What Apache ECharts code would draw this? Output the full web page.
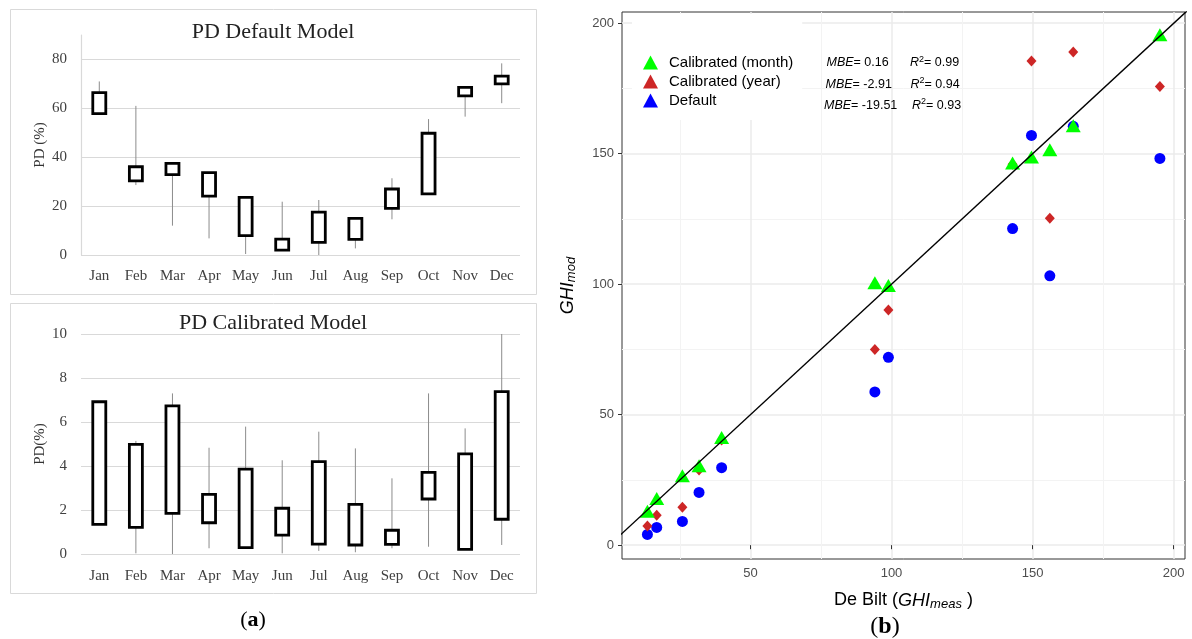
<!DOCTYPE html>
<html>
<head>
<meta charset="utf-8">
<script src="https://cdn.jsdelivr.net/npm/echarts@6/dist/echarts.min.js"></script>
<style>
  html, body { margin: 0; padding: 0; background: #ffffff; }
  #chart { width: 1192px; height: 639px; }
</style>
</head>
<body>
<div id="chart"></div>
<script>
// Month categories shared by both PD panels
const months = ['Jan', 'Feb', 'Mar', 'Apr', 'May', 'Jun', 'Jul', 'Aug', 'Sep', 'Oct', 'Nov', 'Dec'];

// PD of the default model (%): box edges and whisker ends per month
const defaultBoxLow    = [57.8, 30.3, 32.9, 24.1, 7.9, 2.0, 5.2, 6.4, 19.1, 25.0, 65.1, 70.0];
const defaultBoxHigh   = [66.4, 36.1, 37.5, 33.7, 23.6, 6.5, 17.5, 15.0, 27.0, 49.8, 68.6, 73.2];
const defaultWhiskLow  = [57.8, 28.6, 12.0, 6.8, 0.4, 2.0, 0.0, 2.7, 14.6, 25.0, 56.6, 62.1];
const defaultWhiskHigh = [71.0, 61.0, 37.5, 33.7, 23.6, 21.8, 22.5, 15.0, 31.4, 55.6, 68.6, 78.4];

// PD of the calibrated model (%)
const calibBoxLow    = [1.35, 1.21, 1.85, 1.42, 0.29, 0.86, 0.45, 0.41, 0.44, 2.50, 0.21, 1.58];
const calibBoxHigh   = [6.92, 4.98, 6.73, 2.71, 3.86, 2.08, 4.20, 2.26, 1.08, 3.71, 4.55, 7.38];
const calibWhiskLow  = [1.35, 0.03, 0.00, 0.26, 0.29, 0.03, 0.14, 0.08, 0.26, 0.33, 0.21, 0.41];
const calibWhiskHigh = [6.92, 5.14, 7.30, 4.83, 5.79, 4.26, 5.56, 4.80, 3.44, 7.30, 5.71, 10.0];

// Monthly GHI at De Bilt: measured vs. modelled
const ghiMeas       = [13.5, 16.8, 25.9, 31.8, 39.8, 94.1, 98.9, 142.9, 149.6, 156.1, 164.4, 195.1];
const ghiCalibMonth = [13.0, 17.9, 26.6, 30.4, 41.3, 100.6, 99.5, 146.4, 148.7, 151.5, 160.7, 195.6];
const ghiCalibYear  = [7.3, 11.5, 14.5, 28.8, 40.3, 75.0, 90.1, 146.0, 185.5, 125.3, 189.0, 175.8];
const ghiDefault    = [4.1, 6.8, 9.1, 20.2, 29.7, 58.7, 72.0, 121.3, 157.0, 103.2, 160.5, 148.2];

// Goodness-of-fit statistics, one row per model
const mbeValues = ['0.16', '-2.91', '-19.51'];
const r2Values  = ['0.99', '0.94', '0.93'];

// 1:1 reference line
const identityLine = [[0, 0], [210, 210]];

const SERIF = '"Liberation Serif", "DejaVu Serif", serif';
const SANS = '"Liberation Sans", Arial, sans-serif';

const chart = echarts.init(document.getElementById('chart'), null, { renderer: 'canvas' });

// Box (thick black outline) with a thin grey whisker behind it
function pdBoxSeries(idx, boxLow, boxHigh, whiskLow, whiskHigh) {
  return {
    type: 'custom',
    xAxisIndex: idx,
    yAxisIndex: idx,
    encode: { x: 0, y: [1, 2, 3, 4] },
    data: months.map((m, i) => [i, boxLow[i], boxHigh[i], whiskLow[i], whiskHigh[i]]),
    renderItem(params, api) {
      const i = api.value(0);
      const lo = api.coord([i, api.value(1)]);
      const hi = api.coord([i, api.value(2)]);
      const wLo = api.coord([i, api.value(3)]);
      const wHi = api.coord([i, api.value(4)]);
      const w = 13;
      return {
        type: 'group',
        children: [
          { type: 'line', shape: { x1: wLo[0], y1: wLo[1], x2: wHi[0], y2: wHi[1] },
            style: { stroke: '#8C8C8C', lineWidth: 1 } },
          { type: 'rect', shape: { x: hi[0] - w / 2, y: hi[1], width: w, height: lo[1] - hi[1] },
            style: { fill: '#ffffff', stroke: '#000000', lineWidth: 2.8 } }
        ]
      };
    }
  };
}

function pdXAxis(idx, margin) {
  return {
    type: 'category', gridIndex: idx, data: months,
    axisTick: { show: false }, axisLine: { show: false },
    axisLabel: { fontFamily: SERIF, fontSize: 15, color: '#404040', margin: margin }
  };
}

const pdSplit = { lineStyle: { color: '#D9D9D9', width: 1.2 } };

const option = {
  animation: false,
  backgroundColor: '#ffffff',
  grid: [
    { left: 81, right: 672, top: 35, height: 220 },
    { left: 81, right: 672, top: 334, height: 220 },
    { left: 622, right: 7, top: 12, bottom: 80, show: true, borderColor: '#333333', borderWidth: 1, backgroundColor: 'transparent' }
  ],
  xAxis: [
    pdXAxis(0, 14),
    pdXAxis(1, 15),
    {
      type: 'value', gridIndex: 2, min: 4.5, max: 204, splitNumber: 4, minInterval: 50, maxInterval: 50,
      axisLine: { show: false },
      axisTick: { show: true, length: 4, lineStyle: { color: '#333333' } },
      axisLabel: { color: '#4D4D4D', fontFamily: SANS, fontSize: 13, margin: 8, showMinLabel: false, showMaxLabel: false },
      splitLine: { show: true, showMinLine: false, showMaxLine: false, lineStyle: { color: '#EBEBEB', width: 1.5 } },
      minorTick: { show: false, splitNumber: 2 },
      minorSplitLine: { show: true, lineStyle: { color: '#F3F3F3', width: 1 } },
      name: 'De Bilt ({i|GHI}{s|meas} )',
      nameLocation: 'middle', nameGap: 31,
      nameTextStyle: {
        fontFamily: SANS, fontSize: 18, color: '#000000',
        rich: {
          i: { fontFamily: SANS, fontSize: 18, fontStyle: 'italic', color: '#000000' },
          s: { fontFamily: SANS, fontSize: 13, fontStyle: 'italic', color: '#000000', padding: [8, 0, 0, 0] }
        }
      }
    }
  ],
  yAxis: [
    {
      type: 'value', gridIndex: 0, min: 0, max: 90, interval: 20,
      axisLine: { show: true, lineStyle: { color: '#D9D9D9', width: 1.2 } },
      axisTick: { show: false },
      axisLabel: { fontFamily: SERIF, fontSize: 15, color: '#404040', margin: 14, showMaxLabel: false },
      splitLine: Object.assign({ showMaxLine: false }, pdSplit),
      name: 'PD (%)', nameLocation: 'middle', nameGap: 33,
      nameTextStyle: { fontFamily: SERIF, fontSize: 15, color: '#333333' }
    },
    {
      type: 'value', gridIndex: 1, min: 0, max: 10, interval: 2,
      axisLine: { show: false },
      axisTick: { show: false },
      axisLabel: { fontFamily: SERIF, fontSize: 15, color: '#404040', margin: 14 },
      splitLine: pdSplit,
      name: 'PD(%)', nameLocation: 'middle', nameGap: 33,
      nameTextStyle: { fontFamily: SERIF, fontSize: 15, color: '#333333' }
    },
    {
      type: 'value', gridIndex: 2, min: -5.3, max: 204.3, splitNumber: 4, minInterval: 50, maxInterval: 50,
      axisLine: { show: false },
      axisTick: { show: true, length: 4, lineStyle: { color: '#333333' } },
      axisLabel: { color: '#4D4D4D', fontFamily: SANS, fontSize: 13, margin: 8, showMinLabel: false, showMaxLabel: false },
      splitLine: { show: true, showMinLine: false, showMaxLine: false, lineStyle: { color: '#EBEBEB', width: 1.5 } },
      minorTick: { show: false, splitNumber: 2 },
      minorSplitLine: { show: true, lineStyle: { color: '#F3F3F3', width: 1 } },
      name: '{i|GHI}{s|mod}',
      nameLocation: 'middle', nameGap: 44,
      nameTextStyle: {
        fontFamily: SANS, fontSize: 18, color: '#000000',
        rich: {
          i: { fontFamily: SANS, fontSize: 18, fontStyle: 'italic', color: '#000000' },
          s: { fontFamily: SANS, fontSize: 13, fontStyle: 'italic', color: '#000000', padding: [8, 0, 0, 0] }
        }
      }
    }
  ],
  legend: {
    orient: 'vertical', left: 632, top: 14,
    padding: [41, 9, 12, 11],
    backgroundColor: '#ffffff',
    icon: 'triangle', itemWidth: 15, itemHeight: 14, itemGap: 4,
    data: ['Calibrated (month)', 'Calibrated (year)', 'Default'],
    textStyle: { fontFamily: SANS, fontSize: 15, color: '#000000', padding: [0, 0, 0, 6] }
  },
  series: [
    pdBoxSeries(0, defaultBoxLow, defaultBoxHigh, defaultWhiskLow, defaultWhiskHigh),
    pdBoxSeries(1, calibBoxLow, calibBoxHigh, calibWhiskLow, calibWhiskHigh),
    {
      name: 'Default', type: 'scatter', xAxisIndex: 2, yAxisIndex: 2,
      symbol: 'circle', symbolSize: 11, itemStyle: { color: '#0000FF', opacity: 1 },
      data: ghiMeas.map((x, i) => [x, ghiDefault[i]])
    },
    {
      name: 'Calibrated (year)', type: 'scatter', xAxisIndex: 2, yAxisIndex: 2,
      symbol: 'diamond', symbolSize: [10, 11], itemStyle: { color: '#CD2626', opacity: 1 },
      data: ghiMeas.map((x, i) => [x, ghiCalibYear[i]])
    },
    {
      name: 'Calibrated (month)', type: 'scatter', xAxisIndex: 2, yAxisIndex: 2,
      symbol: 'triangle', symbolSize: [15, 13], itemStyle: { color: '#00FF00', opacity: 1 },
      data: ghiMeas.map((x, i) => [x, ghiCalibMonth[i]])
    },
    {
      name: '1:1', type: 'line', xAxisIndex: 2, yAxisIndex: 2, clip: true, z: 5,
      symbol: 'none', lineStyle: { color: '#000000', width: 1.4 },
      data: identityLine
    }
  ],
  graphic: [
    { type: 'rect', shape: { x: 10.5, y: 9.5, width: 526, height: 285 }, style: { fill: 'none', stroke: '#D9D9D9', lineWidth: 1 }, z: -1 },
    { type: 'rect', shape: { x: 10.5, y: 303.5, width: 526, height: 290 }, style: { fill: 'none', stroke: '#D9D9D9', lineWidth: 1 }, z: -1 },
    { type: 'text', x: 273, y: 32, style: { text: 'PD Default Model', fontFamily: SERIF, fontSize: 22, fill: '#222222', align: 'center', verticalAlign: 'middle' } },
    { type: 'text', x: 273, y: 323, style: { text: 'PD Calibrated Model', fontFamily: SERIF, fontSize: 22, fill: '#222222', align: 'center', verticalAlign: 'middle' } },
    { type: 'text', x: 253, y: 620, style: { text: '({b|a})', fontFamily: SERIF, fontSize: 22, fill: '#000000', align: 'center', verticalAlign: 'middle',
        rich: { b: { fontFamily: SERIF, fontSize: 22, fontWeight: 'bold', fill: '#000000' } } } },
    { type: 'text', x: 885, y: 627, style: { text: '({b|b})', fontFamily: SERIF, fontSize: 24, fill: '#000000', align: 'center', verticalAlign: 'middle',
        rich: { b: { fontFamily: SERIF, fontSize: 24, fontWeight: 'bold', fill: '#000000' } } } }
  ].concat(mbeValues.map((v, k) => ({
    type: 'text', x: [826.5, 825.5, 824][k], y: [63, 84.5, 105.5][k], z: 10,
    style: { text: '{i|MBE}= ' + v, fontFamily: SANS, fontSize: 12.5, fill: '#000000', verticalAlign: 'middle',
      rich: { i: { fontFamily: SANS, fontSize: 12.5, fontStyle: 'italic', fill: '#000000' } } }
  }))).concat(r2Values.map((v, k) => ({
    type: 'text', x: [910, 910.5, 912][k], y: [63, 84.5, 105.5][k], z: 10,
    style: { text: '{i|R}{p|2}= ' + v, fontFamily: SANS, fontSize: 12.5, fill: '#000000', verticalAlign: 'middle',
      rich: {
        i: { fontFamily: SANS, fontSize: 12.5, fontStyle: 'italic', fill: '#000000' },
        p: { fontFamily: SANS, fontSize: 9, fill: '#000000', padding: [0, 0, 7, 0] }
      } }
  })))
};

chart.setOption(option);
</script>
</body>
</html>
